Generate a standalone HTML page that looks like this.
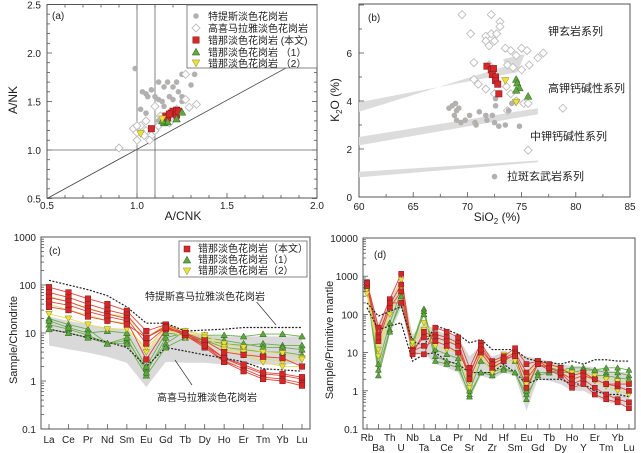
<!DOCTYPE html>
<html><head><meta charset="utf-8">
<style>
body{margin:0;background:#fff;}
svg{display:block;font-family:"Liberation Sans","Noto Sans CJK SC",sans-serif;}
</style></head>
<body>
<svg id="fig" width="641" height="453" viewBox="0 0 641 453"></svg>
<script>
// ---------- Panel (a) data: A/CNK vs A/NK ----------
const aTethyanX=[0.99,1.03,1.05,1.08,1.10,1.12,1.15,1.17,1.20,1.22,1.25,1.32,1.30,1.23,1.18,1.12,1.06,1.02,1.05,1.14,1.20,1.25,1.25,1.10,1.15,1.08,1.12];
const aTethyanY=[1.84,1.60,1.58,1.62,1.55,1.70,1.65,1.70,1.65,1.70,1.78,1.78,1.67,1.60,1.55,1.52,1.55,1.42,1.38,1.50,1.52,1.50,1.55,1.45,1.45,1.20,1.30];
const aHimalX=[0.90,0.98,1.00,1.00,1.02,1.05,1.08,1.10,1.12,1.15,1.18,1.20,1.22,1.27,1.27,1.29,1.33,1.10,1.13,1.05,1.00,1.04,1.07];
const aHimalY=[1.02,1.22,1.18,1.10,1.25,1.30,1.15,1.20,1.25,1.30,1.28,1.35,1.42,1.78,1.52,1.44,1.47,1.45,1.35,1.20,1.25,1.15,1.10];
const aRedX=[1.08,1.16,1.17,1.19,1.20,1.22,1.22,1.23,1.18];
const aRedY=[1.22,1.35,1.33,1.38,1.40,1.41,1.36,1.40,1.37];
const aGreenX=[1.15,1.17,1.22,1.25,1.14];
const aGreenY=[1.28,1.29,1.32,1.39,1.30];
const aYellowX=[1.02,1.14];
const aYellowY=[1.17,1.32];
// ---------- Panel (b) data: SiO2 vs K2O ----------
const bHimalX=[69.5,72.2,73,73,70.3,71.7,72.2,72.7,71.7,72,72.5,73.5,74,74.5,75,75.5,76.5,77,70.6,72,73.7,74.2,75,75.7,70.6,71,71.7,72.7,73.6,74,74.5,75.2,75.6,78.8,75.6,73.7,72.5];
const bHimalY=[7.6,7.6,7.3,7.1,6.8,6.7,6.8,6.8,6.5,6.3,6.5,6.2,6.1,5.9,6.2,6.1,5.8,6.0,5.6,5.5,5.5,5.4,5.3,5.5,4.9,4.7,4.5,4.8,4.6,4.3,4.0,3.9,3.9,3.7,1.95,3.6,4.3];
const bTethyanX=[68.3,68.6,68.9,69,68.8,69.2,69,69.4,69.8,70.2,70.7,70.8,71.1,71.7,71.8,72.3,72.5,72.9,73.5,74.8,72.6,72.6,73.8,74.1,72.5];
const bTethyanY=[3.7,3.8,3.9,3.6,3.4,3.7,3.2,3.1,3.2,3.4,3.1,3.0,3.55,3.4,3.2,3.4,3.1,2.95,3.0,2.95,3.8,4.1,3.6,3.9,0.85];
const bRedX=[71.8,72.2,72.4,72.3,72.6,72.6,72.8,72.9];
const bRedY=[5.45,5.3,5.35,5.1,5.0,4.85,4.7,4.3];
const bGreenX=[74.5,74.6,74.8,74.5,75.6];
const bGreenY=[4.9,4.75,4.55,4.45,4.2];
const bYellowX=[73.5,74.5];
const bYellowY=[4.85,3.95];
// ---------- Panel (c) data: REE chondrite-normalised ----------
const cElements=["La","Ce","Pr","Nd","Sm","Eu","Gd","Tb","Dy","Ho","Er","Tm","Yb","Lu"];
const cRed1=[90,70,52,40,29,11,15,10,6,3,2,1.4,1.3,1.1];
const cRed2=[70,55,40,30,24,8,14,9,5.5,2.6,1.8,1.2,1.1,0.9];
const cRed3=[55,45,32,25,20,6,13,9,5,2.5,1.6,1.1,1.0,0.8];
const cRed4=[45,38,28,22,18,2.8,12,10,7,4,3.5,3.2,3,2];
const cRed5=[35,30,22,18,15,8,13,10,5.5,3,2.2,1.5,1.4,1.2];
const cGreen1=[20,15,12,6,7,1.8,6,11,9,9,8.5,9.5,9.5,8.5];
const cGreen2=[15,12,9,6,6,1.3,5,8,7,6,5.5,6,5.5,5.5];
const cGreen3=[12,10,8,6,8,1.5,8,10,8,7,6,5,5,4.5];
const cGreen4=[18,13,10,11,10,2,10,9,7,5,4.5,4,4,3.5];
const cYellow1=[58,45,33,25,22,8,15,11,9,6,5,4,3.8,3];
const cYellow2=[40,30,24,18,16,4,14,10,8,5,4,3,2.5,2.8];
const cYellow3=[25,20,15,12,12,5,12,8,6,4.5,3.5,2.5,2,2];
const cBandUpper=[22,18,15,13,12,4,12,10,9,8.5,8.5,8.5,8.5,8.5];
const cBandLower=[5.5,4.6,3.9,3.2,2.4,0.75,2.5,2.4,2.4,2.2,2.2,2.2,2.2,2.3];
const cDotUpper=[125,100,80,60,35,16,16,11,11.5,12,13,13,13,13];
const cDotLower=[12,10,8,6.5,5,2,5,4.2,3.5,3,2.5,1.8,1.7,1.6];
// ---------- Panel (d) data: primitive-mantle-normalised spider ----------
const dElements=["Rb","Ba","Th","U","Nb","Ta","La","Ce","Pr","Sr","Nd","Zr","Hf","Sm","Eu","Gd","Tb","Dy","Ho","Y","Er","Tm","Yb","Lu"];
const dRed1=[700,45,250,1150,10,9,45,35,25,4,18,6,8,13,5,6,5,4,2.5,3,2,1.5,1.3,1];
const dRed2=[600,30,180,600,12,25,30,25,18,2.5,15,5,7,10,3,6,4,3,1.5,2,1.2,0.8,0.6,0.5];
const dRed3=[550,20,150,400,9,35,25,20,15,2,10,4,6,9,2,5,3.5,2.5,1.2,1.5,0.8,0.6,0.5,0.35];
const dRed4=[650,25,200,200,11,15,20,15,10,3,12,5,7,8,1.2,5,4,3,2,2.5,2,1.5,1.5,1.5];
const dGreen1=[550,3.5,40,200,18,140,8,6,5,0.7,3,3,4,3,0.6,3,3,3.5,4,4,3.5,4,4,3.5];
const dGreen2=[500,2.5,35,300,15,120,6,5,4,0.8,3,2.5,3.5,3,0.8,2.5,3,3,3,3.5,3.5,3,3,2.5];
const dGreen3=[600,5,60,400,20,100,12,9,7,1,6,4,6,6,1,5,4,3.5,3,3,2.5,2.5,2.2,2];
const dYellow1=[450,12,150,800,15,60,25,20,16,1.8,12,4,9,8,2.5,6,4.5,4,3,3,2.5,2,1.8,1.6];
const dYellow2=[350,8,100,500,18,40,15,12,10,1.2,8,3,6,6,1.5,5,4,3,2.2,2.4,1.8,1.3,1,0.8];
const dBandUpper=[700,60,250,900,30,60,40,30,25,8,15,8,10,10,8,7,6,5,4.5,4.5,4,3.5,3.2,3];
const dBandLower=[300,2,30,150,8,10,5,4,3,0.6,2.5,2,3,2.5,0.3,2,1.8,1.5,1,1,0.7,0.5,0.45,0.4];
const dDotUpper=[200,90,120,160,20,15,50,40,30,18,22,12,12,12,7,6,5.5,5,6,5,6.5,6.5,6,6];
const dDotLower=[150,40,50,60,6,9,10,6,5,3,3,3,5,3,1.5,2,2,2,1.5,1.5,1,0.8,0.8,0.7];

const NS="http://www.w3.org/2000/svg";
const svg=document.getElementById('fig');
function mk(tag,attrs,parent,name,inter){
  const e=document.createElementNS(NS,tag);
  for(const k in attrs)e.setAttribute(k,attrs[k]);
  
  
  (parent||svg).appendChild(e);return e;
}
function txt(x,y,s,size,anchor,parent,name,extra){
  const t=mk('text',Object.assign({x:x,y:y,'font-size':size,'text-anchor':anchor||'middle',fill:'#222'},extra||{}),parent,name,false);
  t.textContent=s;return t;
}
function gdot(x,y,p,n){mk('circle',{cx:x,cy:y,r:2.8,fill:'#b3b0b0'},p,n);}
function diam(x,y,p,n){mk('path',{d:`M${x} ${y-4}L${x+4} ${y}L${x} ${y+4}L${x-4} ${y}Z`,fill:'#fff',stroke:'#bdbdbd','stroke-width':0.9},p,n);}
function sq(x,y,p,n,s){s=s||3.2;mk('rect',{x:x-s,y:y-s,width:2*s,height:2*s,fill:'#d6282b',stroke:'#7a1a18','stroke-width':0.5},p,n);}
function tri(x,y,p,n,s){s=s||3.8;mk('path',{d:`M${x} ${y-s}L${x+s} ${y+s*0.8}L${x-s} ${y+s*0.8}Z`,fill:'#5ea83e',stroke:'#2f5e20','stroke-width':0.5},p,n);}
function itri(x,y,p,n,s){s=s||3.8;mk('path',{d:`M${x} ${y+s}L${x+s} ${y-s*0.8}L${x-s} ${y-s*0.8}Z`,fill:'#ece23c',stroke:'#8a8420','stroke-width':0.5},p,n);}

// ================= PANEL A =================
(function(){
  const g=mk('g',{},svg,'panel-a-acnk-ank',false);
  const ax=v=>47+180*(v-0.5), ay=v=>150-97*(v-1);
  const L=47,R=317,T=4.5,B=198;
  mk('rect',{x:L,y:T,width:R-L,height:B-T,fill:'none',stroke:'#555','stroke-width':1},g,'plot-frame-a');
  for(let v=0.5;v<=2.001;v+=0.1){const x=ax(v);const len=(Math.abs(v*2-Math.round(v*2))<0.01)?5:3;
    mk('line',{x1:x,y1:B,x2:x,y2:B-len,stroke:'#555','stroke-width':0.8},g,'x-tick');
    mk('line',{x1:x,y1:T,x2:x,y2:T+len,stroke:'#555','stroke-width':0.8},g,'x-tick-top');}
  for(let v=0.5;v<=2.501;v+=0.1){const y=ay(v);const len=(Math.abs(v*2-Math.round(v*2))<0.01)?5:3;
    mk('line',{x1:L,y1:y,x2:L+len,y2:y,stroke:'#555','stroke-width':0.8},g,'y-tick');
    mk('line',{x1:R,y1:y,x2:R-len,y2:y,stroke:'#555','stroke-width':0.8},g,'y-tick-right');}
  ["0.5","1.0","1.5","2.0"].forEach(s=>txt(ax(+s),209,s,10,'middle',g,'x-tick-label'));
  ["0.5","1.0","1.5","2.0","2.5"].forEach(s=>txt(41,ay(+s)+4,s,10,'end',g,'y-tick-label'));
  txt(183,220,"A/CNK",12,'middle',g,'x-axis-title');
  txt(17,100,"A/NK",12,'middle',g,'y-axis-title',{transform:'rotate(-90 17 100)'});
  mk('line',{x1:ax(1),y1:T,x2:ax(1),y2:B,stroke:'#666','stroke-width':0.8},g,'acnk-1.0-line');
  mk('line',{x1:ax(1.1),y1:T,x2:ax(1.1),y2:B,stroke:'#666','stroke-width':0.8},g,'acnk-1.1-line');
  mk('line',{x1:L,y1:ay(1),x2:R,y2:ay(1),stroke:'#666','stroke-width':0.8},g,'ank-1.0-line');
  mk('line',{x1:ax(0.5),y1:ay(0.5),x2:ax(2),y2:ay(2.02),stroke:'#444','stroke-width':0.8},g,'equal-line');
  aTethyanX.forEach((v,i)=>gdot(ax(v),ay(aTethyanY[i]),g,'tethyan-point'));
  aHimalX.forEach((v,i)=>diam(ax(v),ay(aHimalY[i]),g,'high-himalaya-point'));
  aRedX.forEach((v,i)=>sq(ax(v),ay(aRedY[i]),g,'cuona-this-study-point'));
  aGreenX.forEach((v,i)=>tri(ax(v),ay(aGreenY[i]),g,'cuona-1-point'));
  aYellowX.forEach((v,i)=>itri(ax(v),ay(aYellowY[i]),g,'cuona-2-point'));
  txt(52,19,"(a)",10,'start',g,'panel-label-a');
  const lg=mk('g',{},g,'legend-a',false);
  mk('rect',{x:187,y:5,width:130,height:63,fill:'#fff',stroke:'#666','stroke-width':0.8},lg,'legend-box-a');
  const ly=[16,28,40,52,63];
  gdot(196,ly[0],lg,'legend-marker');diam(196,ly[1],lg,'legend-marker');sq(196,ly[2],lg,'legend-marker');tri(196,ly[3],lg,'legend-marker');itri(196,ly[4],lg,'legend-marker');
  ["特提斯淡色花岗岩","高喜马拉雅淡色花岗岩","错那淡色花岗岩 (本文)","错那淡色花岗岩 （1）","错那淡色花岗岩 （2）"].forEach((s,i)=>txt(208,ly[i]+4,s,10,'start',lg,'legend-entry'));
})();

// ================= PANEL B =================
(function(){
  const g=mk('g',{},svg,'panel-b-sio2-k2o',false);
  const bx=v=>359+(v-60)*10.84, by=v=>197-24*v;
  const L=359,R=630,T=4,B=197;
  mk('rect',{x:L,y:T,width:R-L,height:B-T,fill:'none',stroke:'#555','stroke-width':1},g,'plot-frame-b');
  for(let v=60;v<=85;v+=2.5){const x=bx(v);const len=(v%5===0)?5:3;
    mk('line',{x1:x,y1:B,x2:x,y2:B-len,stroke:'#555','stroke-width':0.8},g,'x-tick');}
  for(let v=0;v<=8;v+=1){const y=by(v);const len=(v%2===0)?5:3;
    mk('line',{x1:L,y1:y,x2:L+len,y2:y,stroke:'#555','stroke-width':0.8},g,'y-tick');}
  [60,65,70,75,80,85].forEach(v=>txt(bx(v),210,String(v),10,'middle',g,'x-tick-label'));
  [0,2,4,6].forEach(v=>txt(352,by(v)+4,String(v),10,'end',g,'y-tick-label'));
  const xt=txt(497,221,"SiO",12,'middle',g,'x-axis-title');xt.innerHTML='SiO<tspan font-size="8" dy="3">2</tspan><tspan dy="-3"> (%)</tspan>';
  const yt=txt(339,100,"K",12,'middle',g,'y-axis-title',{transform:'rotate(-90 339 100)'});yt.innerHTML='K<tspan font-size="8" dy="3">2</tspan><tspan dy="-3">O (%)</tspan>';
  const band=(pts,n)=>mk('polygon',{points:pts.map(p=>bx(p[0])+','+by(p[1])).join(' '),fill:'#dcdcdc'},g,n);
  band([[60,3.55],[73.5,5.45],[73.3,5.75],[75.3,5.95],[74.6,5.2],[60,3.95]],'shoshonite-boundary-band');
  band([[60,2.15],[76.5,3.45],[76.5,3.7],[60,2.5]],'high-k-boundary-band');
  band([[60,0.82],[76.5,1.45],[76.5,1.52],[60,1.05]],'medium-k-boundary-band');
  bHimalX.forEach((v,i)=>diam(bx(v),by(bHimalY[i]),g,'high-himalaya-point'));
  bTethyanX.forEach((v,i)=>gdot(bx(v),by(bTethyanY[i]),g,'tethyan-point'));
  bRedX.forEach((v,i)=>sq(bx(v),by(bRedY[i]),g,'cuona-this-study-point'));
  bGreenX.forEach((v,i)=>tri(bx(v),by(bGreenY[i]),g,'cuona-1-point'));
  bYellowX.forEach((v,i)=>itri(bx(v),by(bYellowY[i]),g,'cuona-2-point'));
  txt(368,21,"(b)",10,'start',g,'panel-label-b');
  txt(548,35,"钾玄岩系列",11,'start',g,'shoshonite-series-label');
  txt(548,92,"高钾钙碱性系列",11,'start',g,'high-k-calc-alkaline-label');
  txt(530,140,"中钾钙碱性系列",11,'start',g,'medium-k-calc-alkaline-label');
  txt(507,180,"拉斑玄武岩系列",11,'start',g,'tholeiite-series-label');
})();

function spider(cfg){
  const g=mk('g',{},svg,cfg.name,false);
  const sx=i=>cfg.x0+i*cfg.dx, sy=v=>cfg.yb-(Math.log10(v)+1)*cfg.dec;
  const n=cfg.el.length;
  mk('rect',{x:cfg.L,y:cfg.T,width:cfg.R-cfg.L,height:cfg.yb-cfg.T,fill:'none',stroke:'#555','stroke-width':1},g,'plot-frame');
  let pts=cfg.bandU.map((v,i)=>sx(i)+','+sy(v)).concat(cfg.bandL.map((v,i)=>sx(i)+','+sy(v)).reverse());
  mk('polygon',{points:pts.join(' '),fill:'#d9d9d9'},g,'high-himalaya-field');
  const series=(arr,col,name)=>mk('polyline',{points:arr.map((v,i)=>sx(i)+','+sy(v)).join(' '),fill:'none',stroke:col,'stroke-width':0.9},g,name);
  cfg.green.forEach(a=>series(a,'#6cae4c','cuona-1-line'));
  cfg.yellow.forEach(a=>series(a,'#e6dc5a','cuona-2-line'));
  cfg.red.forEach(a=>series(a,'#e0453a','cuona-this-study-line'));
  [cfg.dotU,cfg.dotL].forEach(a=>mk('polyline',{points:a.map((v,i)=>sx(i)+','+sy(v)).join(' '),fill:'none',stroke:'#222','stroke-width':1.2,'stroke-dasharray':'2,1.5'},g,'tethyan-envelope'));
  cfg.green.forEach(a=>a.forEach((v,i)=>tri(sx(i),sy(v),g,'cuona-1-point',cfg.ms)));
  cfg.yellow.forEach(a=>a.forEach((v,i)=>itri(sx(i),sy(v),g,'cuona-2-point',cfg.ms)));
  cfg.red.forEach(a=>a.forEach((v,i)=>sq(sx(i),sy(v),g,'cuona-this-study-point',cfg.ms*0.85)));
  for(let d=-1;d<cfg.maxExp;d++){for(let m=1;m<10;m++){const v=m*Math.pow(10,d);const y=sy(v);
    mk('line',{x1:cfg.L,y1:y,x2:cfg.L+(m===1?5:3),y2:y,stroke:'#555','stroke-width':0.8},g,'y-tick');}}
  cfg.ylabels.forEach(s=>txt(cfg.L-5,sy(+s)+4,s,10,'end',g,'y-tick-label'));
  for(let i=0;i<n;i++){mk('line',{x1:sx(i),y1:cfg.yb,x2:sx(i),y2:cfg.yb-5,stroke:'#555','stroke-width':0.8},g,'x-tick');
    const ly=cfg.stagger?(i%2===0?441:451):443;
    txt(sx(i),ly,cfg.el[i],10,'middle',g,'x-tick-label');}
  return {g,sx,sy};
}

// ================= PANEL C =================
(function(){
  const p=spider({name:'panel-c-ree',el:cElements,x0:49,dx:19.46,yb:429,dec:48,L:41,R:310,T:237,maxExp:3,ms:3.3,
    red:[cRed1,cRed2,cRed3,cRed4,cRed5],green:[cGreen1,cGreen2,cGreen3,cGreen4],yellow:[cYellow1,cYellow2,cYellow3],
    bandU:cBandUpper,bandL:cBandLower,dotU:cDotUpper,dotL:cDotLower,ylabels:["0.1","1","10","100","1000"],stagger:false});
  const g=p.g;
  txt(17,340,"Sample/Chondrite",11,'middle',g,'y-axis-title',{transform:'rotate(-90 17 340)'});
  txt(49,254,"(c)",10,'start',g,'panel-label-c');
  mk('line',{x1:255,y1:300,x2:276,y2:325,stroke:'#333','stroke-width':0.7},g,'tethyan-leader');
  mk('line',{x1:175,y1:360,x2:192,y2:385,stroke:'#333','stroke-width':0.7},g,'himalaya-leader');
  mk('rect',{x:143,y:290,width:118,height:12,fill:'#fff'},g,'label-bg');
  txt(145,300,"特提斯喜马拉雅淡色花岗岩",10,'start',g,'tethyan-field-label');
  txt(157,401,"高喜马拉雅淡色花岗岩",10,'start',g,'high-himalaya-field-label');
  const lg=mk('g',{},g,'legend-c',false);
  mk('rect',{x:179,y:241,width:128,height:36,fill:'#fff',stroke:'#666','stroke-width':0.8},lg,'legend-box-c');
  sq(187,249,lg,'legend-marker',3);tri(187,260,lg,'legend-marker');itri(187,271,lg,'legend-marker');
  ["错那淡色花岗岩（本文）","错那淡色花岗岩（1）","错那淡色花岗岩（2）"].forEach((s,i)=>txt(198,252+i*11,s,10,'start',lg,'legend-entry'));
})();

// ================= PANEL D =================
(function(){
  const p=spider({name:'panel-d-spider',el:dElements,x0:367,dx:11.39,yb:429,dec:38.2,L:363,R:635,T:238,maxExp:4,ms:3,
    red:[dRed1,dRed2,dRed3,dRed4],green:[dGreen1,dGreen2,dGreen3],yellow:[dYellow1,dYellow2],
    bandU:dBandUpper,bandL:dBandLower,dotU:dDotUpper,dotL:dDotLower,ylabels:["0.1","1","10","100","1000","10000"],stagger:true});
  const g=p.g;
  txt(333,340,"Sample/Primitive mantle",11,'middle',g,'y-axis-title',{transform:'rotate(-90 333 340)'});
  txt(374,258,"(d)",10,'start',g,'panel-label-d');
})();
</script>
</body></html>
